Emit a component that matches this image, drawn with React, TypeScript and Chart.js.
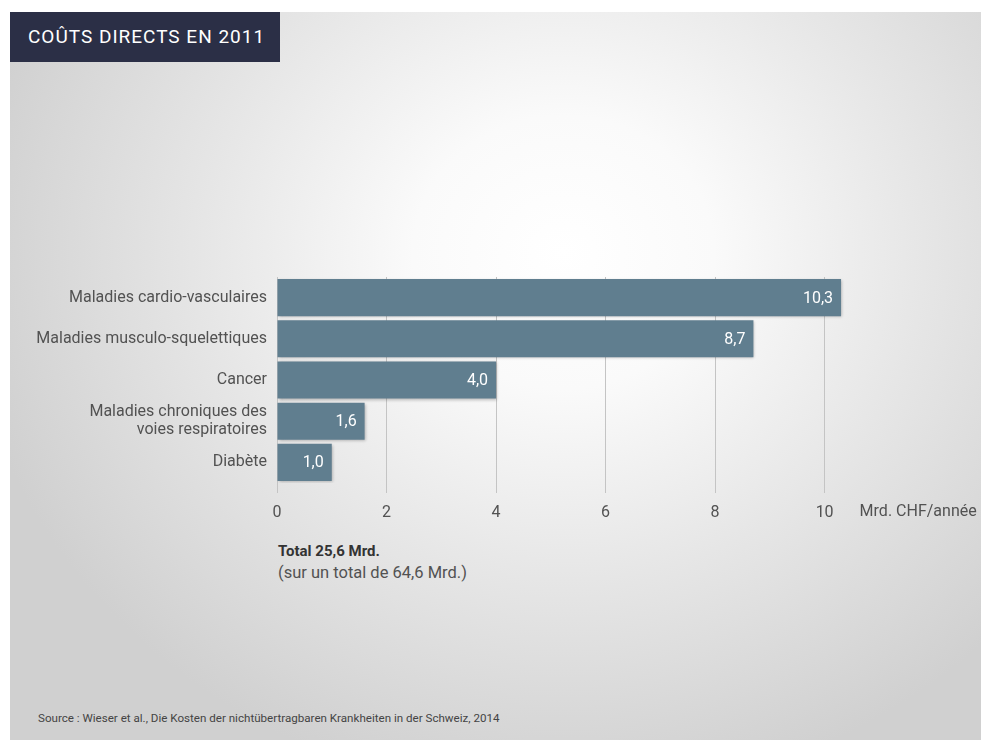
import React, { useEffect, useRef } from "react";
import { Chart, registerables } from "chart.js";

Chart.register(...registerables);

const categories: (string | string[])[] = [
  "Maladies cardio-vasculaires",
  "Maladies musculo-squelettiques",
  "Cancer",
  ["Maladies chroniques des", "voies respiratoires"],
  "Diabète",
];
const values = [10.3, 8.7, 4.0, 1.6, 1.0];
const xTicks = [0, 2, 4, 6, 8, 10];
const unitLabel = "Mrd. CHF/année";
const titleText = "COÛTS DIRECTS EN 2011";
const totalLine = "Total 25,6 Mrd.";
const subTotalLine = "(sur un total de 64,6 Mrd.)";
const sourceText =
  "Source : Wieser et al., Die Kosten der nichtübertragbaren Krankheiten in der Schweiz, 2014";

const FONT = "Roboto, 'DejaVu Sans', sans-serif";
const BAR = "#607e8f";
const TEXT = "#525252";

export default function App() {
  const ref = useRef<HTMLCanvasElement | null>(null);

  useEffect(() => {
    document.body.style.margin = "0";
    const canvas = ref.current;
    if (!canvas) return;

    const shadowPlugin = {
      id: "barShadow",
      beforeDatasetsDraw(chart: any) {
        const ctx = chart.ctx;
        ctx.save();
        ctx.shadowColor = "rgba(0,0,0,0.28)";
        ctx.shadowBlur = 3;
        ctx.shadowOffsetX = 1;
        ctx.shadowOffsetY = 1;
      },
      afterDatasetsDraw(chart: any) {
        chart.ctx.restore();
      },
    };

    const labelPlugin = {
      id: "valueLabels",
      afterDatasetsDraw(chart: any) {
        const ctx = chart.ctx;
        const meta = chart.getDatasetMeta(0);
        ctx.save();
        ctx.fillStyle = "#ffffff";
        ctx.font = `16px ${FONT}`;
        ctx.textAlign = "right";
        ctx.textBaseline = "middle";
        meta.data.forEach((bar: any, i: number) => {
          const txt = values[i].toFixed(1).replace(".", ",");
          ctx.fillText(txt, bar.x - 8, bar.y + 1);
        });
        ctx.restore();
      },
      afterDraw(chart: any) {
        const ctx = chart.ctx;
        const xs = chart.scales.x;
        ctx.save();
        ctx.fillStyle = TEXT;
        ctx.font = `16px ${FONT}`;
        ctx.textAlign = "left";
        ctx.textBaseline = "middle";
        ctx.fillText(unitLabel, xs.getPixelForValue(10) + 35, chart.chartArea.bottom + 29);
        ctx.restore();
      },
    };

    const chart = new Chart(canvas, {
      type: "bar",
      data: {
        labels: categories,
        datasets: [
          {
            data: values,
            backgroundColor: BAR,
            borderWidth: 0,
            barPercentage: 0.9,
            categoryPercentage: 1,
          },
        ],
      },
      options: {
        indexAxis: "y",
        animation: false,
        responsive: false,
        maintainAspectRatio: false,
        layout: { padding: { top: 27, right: 129, left: 0, bottom: 0 } },
        plugins: {
          legend: { display: false },
          tooltip: { enabled: false },
        },
        scales: {
          x: {
            min: 0,
            max: 10.5,
            afterBuildTicks(scale: any) {
              scale.ticks = xTicks.map((v) => ({ value: v }));
            },
            afterFit(scale: any) {
              scale.height = 57;
            },
            grid: {
              color: "#c4c4c4",
              lineWidth: 1,
              drawTicks: true,
              tickLength: 10,
            },
            border: { display: false },
            ticks: {
              color: TEXT,
              font: { family: FONT, size: 16 },
              padding: 10,
              callback: (v: any) => String(v),
            },
          },
          y: {
            afterFit(scale: any) {
              scale.width = 277;
            },
            grid: { display: false, drawTicks: false },
            border: { display: false },
            ticks: {
              color: TEXT,
              font: { family: FONT, size: 16, lineHeight: 1.15 },
              padding: 10,
            },
          },
        },
      },
      plugins: [shadowPlugin, labelPlugin],
    });

    return () => chart.destroy();
  }, []);

  return (
    <div
      style={{
        position: "relative",
        width: 981,
        height: 740,
        background: "#ffffff",
        overflow: "hidden",
        fontFamily: FONT,
      }}
    >
      <div
        style={{
          position: "absolute",
          left: 10,
          top: 12,
          width: 971,
          height: 728,
          background:
            "radial-gradient(ellipse 62% 75% at 57% 33%, #ffffff 0%, #fafafa 25%, #e6e6e6 60%, #d0d0d0 100%)",
        }}
      />
      <div
        style={{
          position: "absolute",
          left: 10,
          top: 12,
          width: 270,
          height: 50,
          background: "#2b2f46",
          color: "#ffffff",
          fontSize: 19,
          letterSpacing: 1,
          lineHeight: "50px",
          paddingLeft: 18,
          boxSizing: "border-box",
          whiteSpace: "nowrap",
        }}
      >
        {titleText}
      </div>
      <canvas
        ref={ref}
        width={981}
        height={290}
        style={{ position: "absolute", left: 0, top: 250, width: 981, height: 290 }}
      />
      <div
        style={{
          position: "absolute",
          left: 278,
          top: 541,
          color: TEXT,
        }}
      >
        <div style={{ fontWeight: 700, color: "#333", fontSize: 15, lineHeight: "21px" }}>
          {totalLine}
        </div>
        <div style={{ fontSize: 16.5, lineHeight: "21px" }}>{subTotalLine}</div>
      </div>
      <div
        style={{
          position: "absolute",
          left: 38,
          top: 711,
          fontSize: 11.6,
          color: "#444",
          whiteSpace: "nowrap",
        }}
      >
        {sourceText}
      </div>
    </div>
  );
}
